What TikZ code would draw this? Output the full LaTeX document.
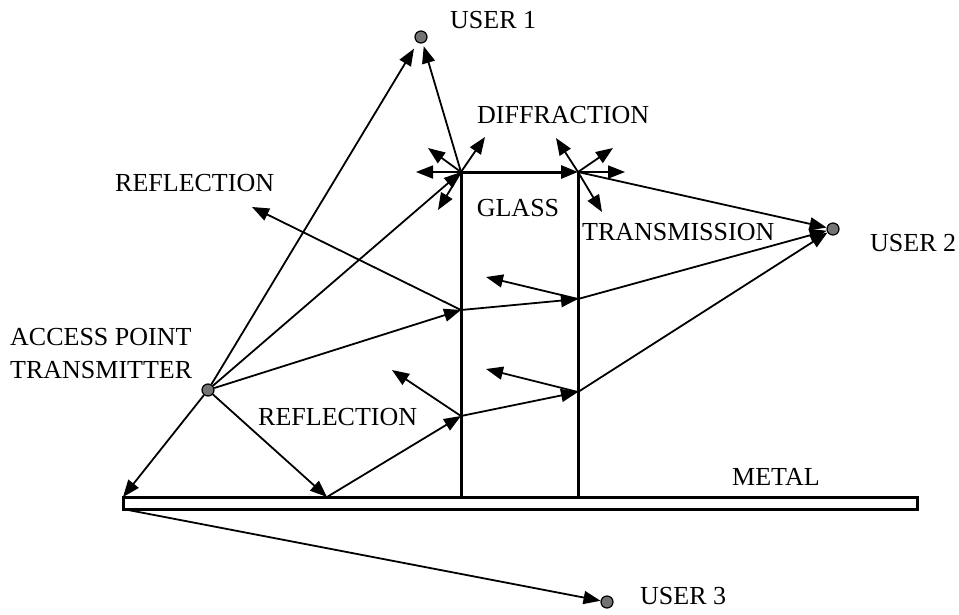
\documentclass[tikz,border=0pt]{standalone}
\usepackage{fontspec}
\setmainfont{Liberation Serif}
\usetikzlibrary{arrows.meta}
\begin{document}
\begin{tikzpicture}[x=1pt,y=-1pt,
  tip/.style={-{Triangle[length=17pt,width=13pt]}},
  ray/.style={line width=1.8pt,tip},
  wall/.style={line width=3pt},
  dot/.style={circle,draw=black,line width=1.2pt,fill=gray!90!black,minimum size=12pt,inner sep=0pt},
  lbl/.style={font=\fontsize{26}{33}\selectfont,inner sep=0pt,anchor=west,align=left}]
\useasboundingbox (0,0) rectangle (959,614);
% metal bar
\draw[wall,fill=white] (123,497) rectangle (917,509);
\coordinate (mtl) at (123,497);
\coordinate (mbl) at (123,509);
\coordinate (mhit) at (327,497);
% glass
\coordinate (tl) at (461,172);
\coordinate (tr) at (578,172);
\coordinate (bl) at (461,497);
\coordinate (br) at (578,497);
\draw[wall] (tl) -- (bl);
\draw[wall] (tr) -- (br);
\draw[wall,tip] (tl) -- (tr);
% dots
\node[dot] (ap) at (208,390) {};
\node[dot] (u1) at (421,37) {};
\node[dot] (u2) at (833,229) {};
\node[dot] (u3) at (607,602) {};
% hit points
\coordinate (l1) at (461,310);
\coordinate (r1) at (578,299);
\coordinate (l2) at (461,416);
\coordinate (r2) at (578,392);
% free ends
\coordinate (rf1) at (252,207);
\coordinate (rr1) at (486,277);
\coordinate (rf2) at (392,370);
\coordinate (rr2) at (486,369);
\coordinate (dl1) at (416,172);
\coordinate (dl2) at (428,148);
\coordinate (dl3) at (485,137);
\coordinate (dl4) at (438,210);
\coordinate (dr1) at (556,138);
\coordinate (dr2) at (613,148);
\coordinate (dr3) at (625,172);
\coordinate (dr4) at (602,212);
% rays
\draw[ray,shorten >=7pt] (ap) -- (u1);
\draw[ray,shorten >=3pt] (tl) -- (u1);
\draw[ray] (ap) -- (tl);
\draw[ray] (ap) -- (mtl);
\draw[ray] (mbl) -- (u3);
\draw[ray] (tr) -- (u2);
\draw[ray] (ap) -- (l1);
\draw[ray] (l1) -- (r1);
\draw[ray] (l1) -- (rf1);
\draw[ray] (r1) -- (rr1);
\draw[ray] (r1) -- (u2);
\draw[ray] (ap) -- (mhit);
\draw[ray] (mhit) -- (l2);
\draw[ray] (l2) -- (rf2);
\draw[ray] (l2) -- (r2);
\draw[ray] (r2) -- (rr2);
\draw[ray] (r2) -- (u2);
% diffraction
\foreach \p in {dl1,dl2,dl3,dl4} \draw[ray] (tl) -- (\p);
\foreach \p in {dr1,dr2,dr3,dr4} \draw[ray] (tr) -- (\p);
% labels
\node[lbl] (tu1) at (450,20) {USER 1};
\node[lbl] (tdif) at (477,115) {DIFFRACTION};
\node[lbl,anchor=center] (tgl) at (518,208) {GLASS};
\node[lbl] (trf1) at (115,183) {REFLECTION};
\node[lbl] (ttr) at (582,232) {TRANSMISSION};
\node[lbl] (tu2) at (870,243) {USER 2};
\node[lbl,anchor=north west] (tap) at (10,328) {ACCESS POINT\\TRANSMITTER};
\node[lbl] (trf2) at (258,417) {REFLECTION};
\node[lbl] (tmt) at (732,477) {METAL};
\node[lbl] (tu3) at (640,596) {USER 3};
\end{tikzpicture}
\end{document}
